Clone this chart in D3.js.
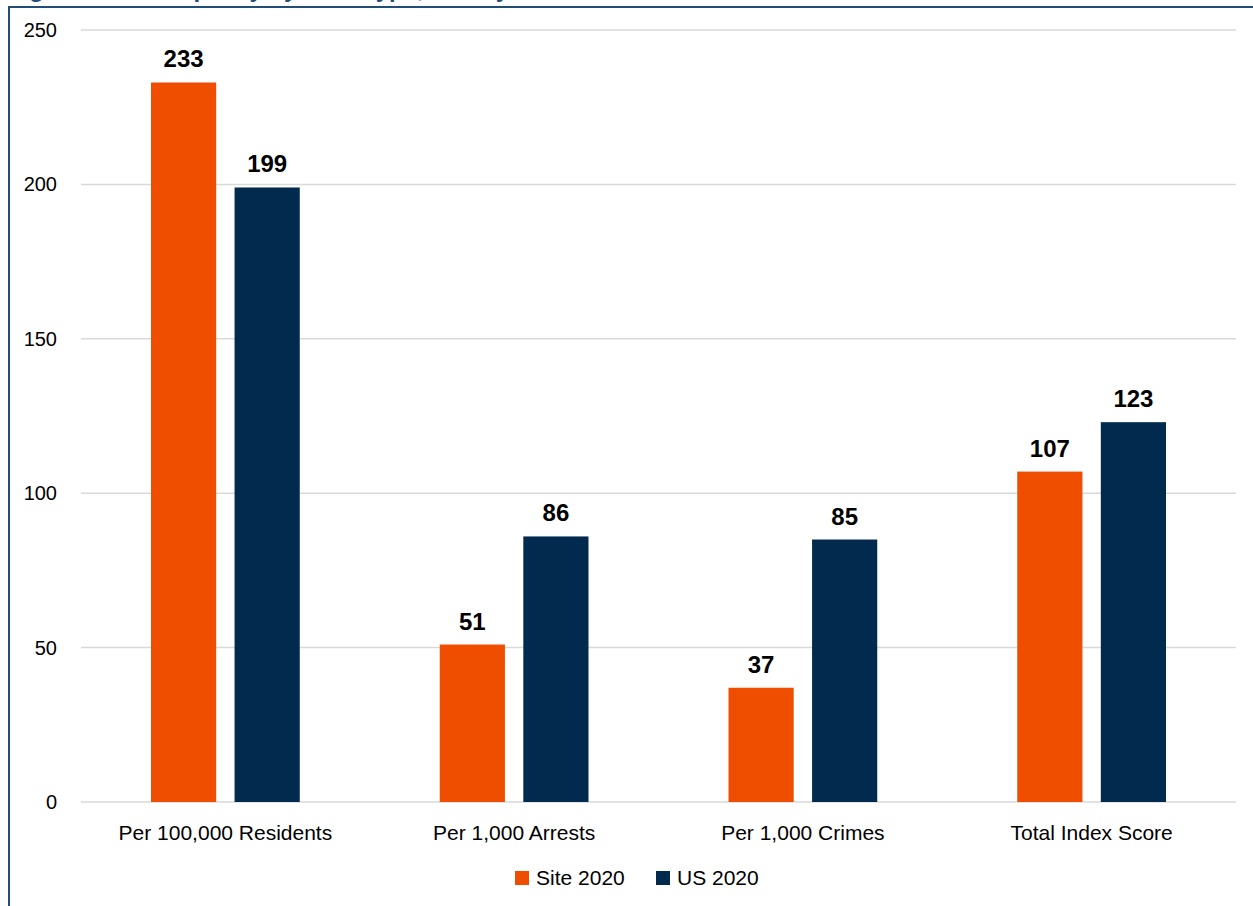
<!DOCTYPE html>
<html>
<head>
<meta charset="utf-8">
<script src="https://cdn.jsdelivr.net/npm/d3@7"></script>
<style>
  body { margin: 0; background: #fff; }
  svg { display: block; font-family: "Liberation Sans", Arial, sans-serif; }
</style>
</head>
<body>
<svg id="chart" width="1253" height="906"></svg>
<script>
// data
var categories = ["Per 100,000 Residents", "Per 1,000 Arrests", "Per 1,000 Crimes", "Total Index Score"];
var seriesNames = ["Site 2020", "US 2020"];
var site2020 = [233, 51, 37, 107];
var us2020 = [199, 86, 85, 123];
var yTicks = [0, 50, 100, 150, 200, 250];

var colors = ["#ef4e00", "#022a4e"];

var svg = d3.select("#chart");

// frame + title clipped by the top edge, as in the reference
svg.append("text")
    .attr("x", 8)
    .attr("y", -3)
    .style("font-size", "24px")
    .style("font-weight", "bold")
    .attr("fill", "#1f4e79")
    .text("Figure 4: Jail Capacity by Rate Type, Site by Year");

svg.append("path")
    .attr("d", "M9,906 V7 H1253")
    .attr("fill", "none")
    .attr("stroke", "#1f4e79")
    .attr("stroke-width", 2);

var x = d3.scaleBand().domain(categories).range([81, 1236]);
var sub = d3.scaleBand().domain(seriesNames).range([70, x.bandwidth() - 70]).paddingInner(0.22);
var y = d3.scaleLinear().domain([0, 250]).range([802, 30]);

// gridlines
svg.append("g")
    .selectAll("line")
    .data(yTicks)
    .enter()
    .append("line")
    .attr("x1", 81)
    .attr("x2", 1236)
    .attr("y1", d => y(d))
    .attr("y2", d => y(d))
    .attr("stroke", "#d9d9d9")
    .attr("stroke-width", 1.5);

// y axis
var yAxis = svg.append("g")
    .attr("transform", "translate(57,0)")
    .call(d3.axisLeft(y).tickValues(yTicks).tickSize(0).tickPadding(0));
yAxis.select(".domain").remove();
yAxis.selectAll("text")
    .style("font-family", "Liberation Sans, Arial, sans-serif")
    .style("font-size", "20px")
    .attr("fill", "#000");

// x axis labels
var xAxis = svg.append("g")
    .attr("transform", "translate(0,802)")
    .call(d3.axisBottom(x).tickSize(0).tickPadding(23));
xAxis.select(".domain").remove();
xAxis.selectAll("text")
    .style("font-family", "Liberation Sans, Arial, sans-serif")
    .style("font-size", "21px")
    .attr("fill", "#000");

var rows = categories.map(function(c, i) {
    return [{cat: c, series: seriesNames[0], value: site2020[i]},
            {cat: c, series: seriesNames[1], value: us2020[i]}];
});

var groups = svg.append("g")
    .selectAll("g")
    .data(rows)
    .enter()
    .append("g")
    .attr("transform", d => "translate(" + x(d[0].cat) + ",0)");

groups.selectAll("rect")
    .data(d => d)
    .enter()
    .append("rect")
    .attr("x", d => sub(d.series))
    .attr("width", sub.bandwidth())
    .attr("y", d => y(d.value))
    .attr("height", d => y(0) - y(d.value))
    .attr("fill", (d, i) => colors[i]);

groups.selectAll("text")
    .data(d => d)
    .enter()
    .append("text")
    .attr("x", d => sub(d.series) + sub.bandwidth() / 2)
    .attr("y", d => y(d.value) - 15)
    .attr("text-anchor", "middle")
    .style("font-size", "24px")
    .style("font-weight", "bold")
    .text(d => d.value);

// legend
var legend = svg.append("g").attr("transform", "translate(515,878)");
var legX = [0, 141];
seriesNames.forEach(function(s, i) {
    legend.append("rect")
        .attr("x", legX[i])
        .attr("y", -7)
        .attr("width", 14)
        .attr("height", 14)
        .attr("fill", colors[i]);
    legend.append("text")
        .attr("x", legX[i] + 21)
        .attr("y", 0)
        .attr("dy", "0.35em")
        .style("font-size", "21px")
        .text(s);
});
</script>
</body>
</html>
